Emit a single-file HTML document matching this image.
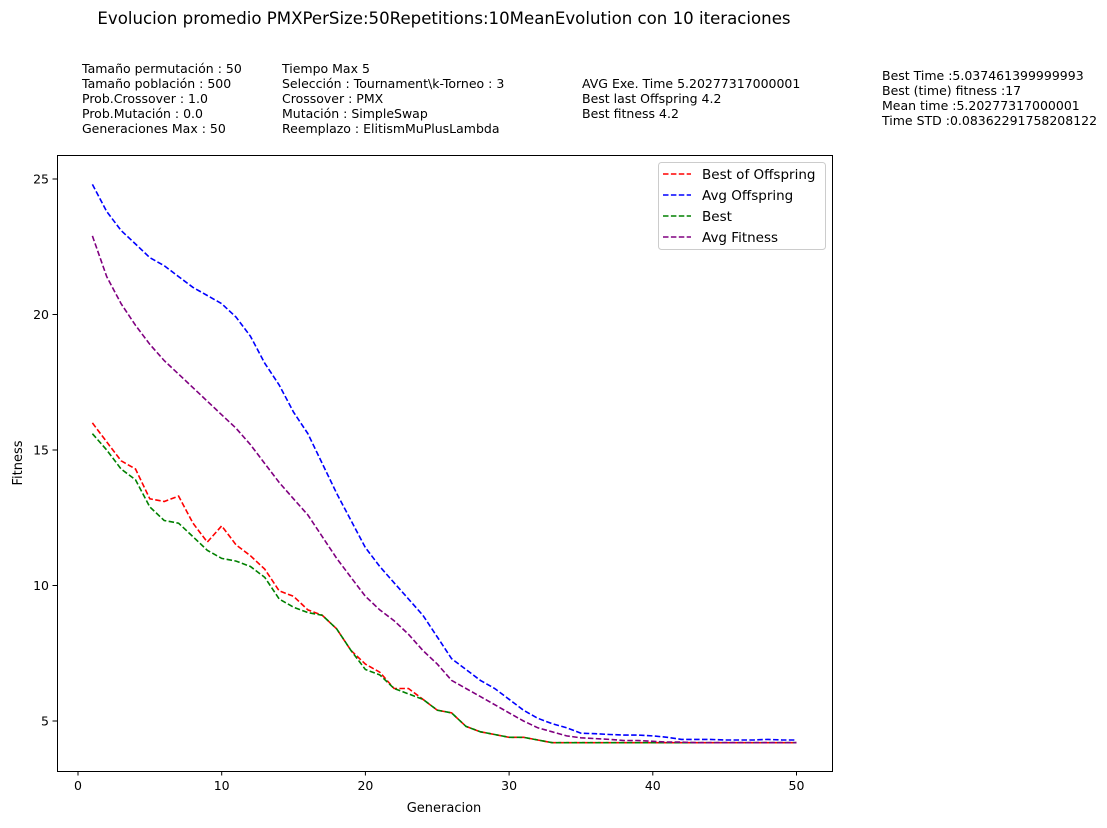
<!DOCTYPE html>
<html><head><meta charset="utf-8"><style>
body{margin:0;background:#fff;font-family:"DejaVu Sans","Liberation Sans",sans-serif;}
svg text{font-family:"DejaVu Sans","Liberation Sans",sans-serif;fill:#000;}
</style></head><body>
<svg id="chart" width="1107" height="824" xmlns="http://www.w3.org/2000/svg">
<text x="444" y="24" text-anchor="middle" font-size="16.6">Evolucion promedio PMXPerSize:50Repetitions:10MeanEvolution con 10 iteraciones</text>
<g font-size="12.5">
<text x="82" y="73">Tamaño permutación : 50</text><text x="82" y="88">Tamaño población : 500</text><text x="82" y="103">Prob.Crossover : 1.0</text><text x="82" y="118">Prob.Mutación : 0.0</text><text x="82" y="133">Generaciones Max : 50</text>
</g>
<g font-size="12.5">
<text x="282" y="73">Tiempo Max 5</text><text x="282" y="88">Selección : Tournament\k-Torneo : 3</text><text x="282" y="103">Crossover : PMX</text><text x="282" y="118">Mutación : SimpleSwap</text><text x="282" y="133">Reemplazo : ElitismMuPlusLambda</text>
</g>
<g font-size="12.5">
<text x="582" y="88">AVG Exe. Time 5.20277317000001</text><text x="582" y="103">Best last Offspring 4.2</text><text x="582" y="118">Best fitness 4.2</text>
</g>
<g font-size="12.5">
<text x="882" y="80">Best Time :5.037461399999993</text><text x="882" y="95">Best (time) fitness :17</text><text x="882" y="110">Mean time :5.20277317000001</text><text x="882" y="125">Time STD :0.08362291758208122</text>
</g>
<g id="axes"></g>
<g id="series"></g>
<rect x="57.5" y="155.5" width="775" height="616" fill="none" stroke="#000" stroke-width="1"/>
<text x="444" y="812" text-anchor="middle" font-size="13">Generacion</text>
<text transform="translate(22,463) rotate(-90)" text-anchor="middle" font-size="13">Fitness</text>
<g id="legend">
<rect x="658.5" y="162.5" width="167" height="87" rx="3" fill="#fff" stroke="#ccc"/>
</g>
</svg>
<script>
const generations = Array.from({length:50},(_,i)=>i+1);
const bestOffspring = [16.0,15.3,14.6,14.3,13.2,13.1,13.3,12.3,11.6,12.2,11.5,11.1,10.6,9.8,9.6,9.1,8.9,8.4,7.6,7.1,6.8,6.2,6.2,5.8,5.4,5.3,4.8,4.6,4.5,4.4,4.4,4.3,4.2,4.2,4.2,4.2,4.2,4.2,4.2,4.2,4.2,4.2,4.2,4.2,4.2,4.2,4.2,4.2,4.2,4.2];
const avgOffspring = [24.8,23.8,23.1,22.6,22.1,21.8,21.4,21.0,20.7,20.4,19.9,19.2,18.2,17.4,16.4,15.6,14.5,13.4,12.4,11.4,10.7,10.1,9.5,8.9,8.1,7.3,6.9,6.5,6.2,5.8,5.4,5.1,4.9,4.75,4.55,4.53,4.5,4.48,4.48,4.45,4.4,4.32,4.32,4.32,4.3,4.3,4.3,4.32,4.3,4.3];
const best = [15.6,15.0,14.3,13.9,12.9,12.4,12.3,11.8,11.3,11.0,10.9,10.7,10.3,9.5,9.2,9.0,8.9,8.4,7.6,6.9,6.7,6.2,6.0,5.8,5.4,5.3,4.8,4.6,4.5,4.4,4.4,4.3,4.2,4.2,4.2,4.2,4.2,4.2,4.2,4.2,4.2,4.2,4.2,4.2,4.2,4.2,4.2,4.2,4.2,4.2];
const avgFitness = [22.9,21.4,20.4,19.6,18.9,18.3,17.8,17.3,16.8,16.3,15.8,15.2,14.5,13.8,13.2,12.6,11.8,11.0,10.3,9.6,9.1,8.7,8.2,7.6,7.1,6.5,6.2,5.9,5.6,5.3,5.0,4.75,4.6,4.45,4.38,4.35,4.32,4.28,4.28,4.25,4.22,4.22,4.2,4.2,4.2,4.2,4.2,4.2,4.2,4.2];
const xTicks = [0,10,20,30,40,50];
const yTicks = [5,10,15,20,25];
const seriesNames = ["Best of Offspring","Avg Offspring","Best","Avg Fitness"];

const NS="http://www.w3.org/2000/svg";
const xs = v => 78 + v*14.37;
const ys = v => 721 - (v-5)*27.1;
function mk(t,a,p){const e=document.createElementNS(NS,t);for(const k in a)e.setAttribute(k,a[k]);p.appendChild(e);return e;}
const axes=document.getElementById('axes');
xTicks.forEach(t=>{
  const l=mk('line',{x1:xs(t),x2:xs(t),y1:771,y2:775.5,stroke:'#000'},axes);
  
  
  const tx=mk('text',{x:xs(t),y:790,'text-anchor':'middle','font-size':'12.5'},axes);
  tx.textContent=t;
  
  
});
yTicks.forEach(t=>{
  const l=mk('line',{x1:52.5,x2:57,y1:ys(t),y2:ys(t),stroke:'#000'},axes);
  
  
  const tx=mk('text',{x:49,y:ys(t)+4.5,'text-anchor':'end','font-size':'12.5'},axes);
  tx.textContent=t;
  
  
});
const data=[bestOffspring,avgOffspring,best,avgFitness];
const colors=['#ff0000','#0000ff','#008000','#800080'];
const names=['best-of-offspring-line','avg-offspring-line','best-line','avg-fitness-line'];
const sg=document.getElementById('series');
data.forEach((arr,i)=>{
  const d=arr.map((v,j)=>(j?'L':'M')+xs(generations[j]).toFixed(1)+','+ys(v).toFixed(1)).join(' ');
  const p=mk('path',{d:d,fill:'none',stroke:colors[i],'stroke-width':1.6,'stroke-dasharray':'5.5,2.4'},sg);
  
  
});
const lg=document.getElementById('legend');
seriesNames.forEach((n,i)=>{
  const y=174+i*21;
  const l=mk('line',{x1:663,x2:691,y1:y,y2:y,stroke:colors[i],'stroke-width':1.6,'stroke-dasharray':'5.5,2.4'},lg);
  
  
  const t=mk('text',{x:702,y:y+5,'font-size':'13.5'},lg);
  t.textContent=n;
  
  
});
</script>
</body></html>
